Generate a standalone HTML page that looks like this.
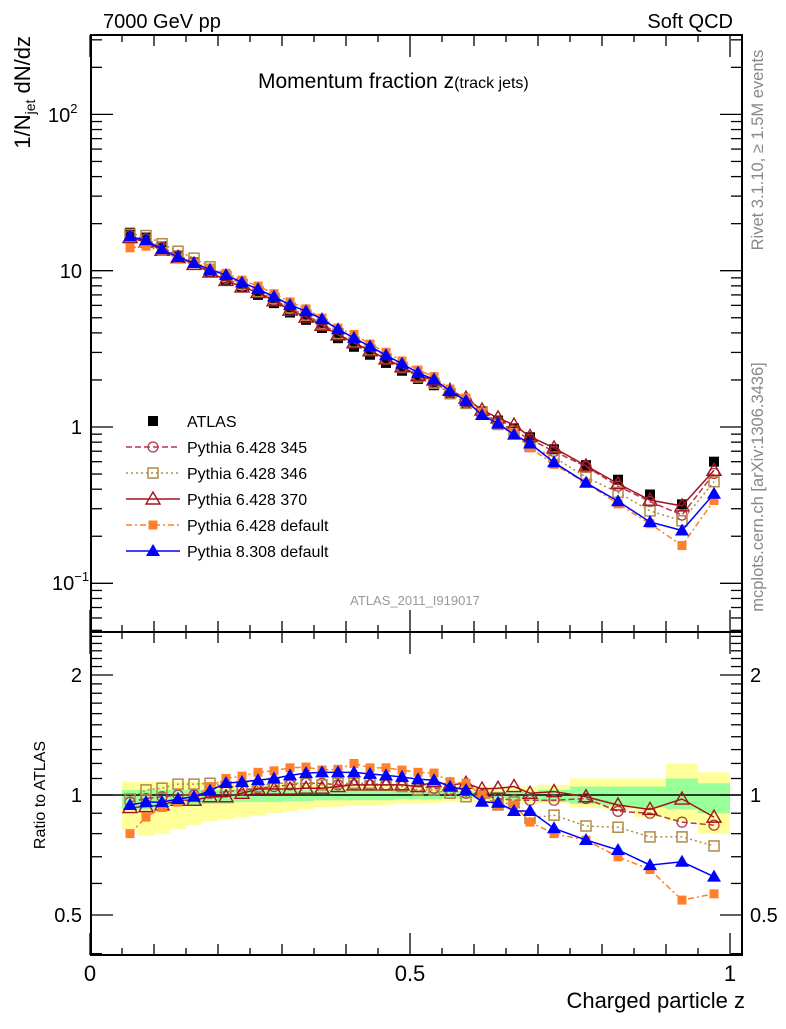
<!DOCTYPE html>
<html><head><meta charset="utf-8"><style>
html,body{margin:0;padding:0;background:#fff}
svg text{font-family:"Liberation Sans",sans-serif}
</style></head><body>
<svg id="chart" width="786" height="1024" viewBox="0 0 786 1024" xmlns="http://www.w3.org/2000/svg">
<rect x="0" y="0" width="786" height="1024" fill="#fff"/>
<g id="bands"></g>
<g id="marks"></g>
<g id="axes"></g>
<text x="103" y="28" font-size="20">7000 GeV pp</text>
<text x="733" y="28" font-size="20" text-anchor="end">Soft QCD</text>
<text x="258" y="88" font-size="21">Momentum fraction z<tspan font-size="16">(track jets)</tspan></text>
<text x="415" y="605" font-size="13" fill="#999" text-anchor="middle">ATLAS_2011_I919017</text>
<text transform="translate(763,150) rotate(-90)" font-size="16.5" fill="#888" text-anchor="middle">Rivet 3.1.10, ≥ 1.5M events</text>
<text transform="translate(763,487) rotate(-90)" font-size="16.5" fill="#888" text-anchor="middle">mcplots.cern.ch [arXiv:1306.3436]</text>
<text transform="translate(30,36) rotate(-90)" font-size="22" text-anchor="end">1/N<tspan font-size="14" dy="5">jet</tspan><tspan dy="-5"> dN/dz</tspan></text>
<text transform="translate(45,795) rotate(-90)" font-size="16" text-anchor="middle">Ratio to ATLAS</text>
<text x="745" y="1008" font-size="22" text-anchor="end">Charged particle z</text>
<text x="52" y="590" font-size="20">10<tspan font-size="13" dy="-9">−1</tspan></text>
<text x="48" y="122" font-size="20">10<tspan font-size="13" dy="-9">2</tspan></text>
<text x="82" y="278" font-size="20" text-anchor="end">10</text>
<text x="82" y="434" font-size="20" text-anchor="end">1</text>
<g id="legend"></g>
</svg>
<script>
// ---- data ----
const zCenters = [0.0625,0.0875,0.1125,0.1375,0.1625,0.1875,0.2125,0.2375,0.2625,0.2875,0.3125,0.3375,0.3625,0.3875,0.4125,0.4375,0.4625,0.4875,0.5125,0.5375,0.5625,0.5875,0.6125,0.6375,0.6625,0.6875,0.725,0.775,0.825,0.875,0.925,0.975];
const binWidths = [0.025,0.025,0.025,0.025,0.025,0.025,0.025,0.025,0.025,0.025,0.025,0.025,0.025,0.025,0.025,0.025,0.025,0.025,0.025,0.025,0.025,0.025,0.025,0.025,0.025,0.025,0.05,0.05,0.05,0.05,0.05,0.05];
const atlasValues = [17.5,16.3,14.3,12.5,11.3,9.9,8.75,7.8,7.0,6.2,5.4,4.85,4.3,3.7,3.26,2.9,2.57,2.29,2.03,1.85,1.62,1.43,1.24,1.1,0.98,0.86,0.72,0.57,0.46,0.37,0.32,0.6];
const ratio345 = [0.96,0.98,0.99,1.0,1.0,1.01,1.02,1.03,1.04,1.05,1.06,1.07,1.07,1.06,1.06,1.06,1.06,1.06,1.05,1.04,1.03,1.01,1.0,0.98,0.97,0.97,0.97,0.98,0.91,0.9,0.855,0.84];
const ratio346 = [0.977,1.03,1.04,1.065,1.065,1.07,1.05,1.05,1.05,1.07,1.07,1.07,1.06,1.07,1.07,1.07,1.06,1.05,1.03,1.03,1.01,0.99,1.01,0.944,0.96,0.875,0.89,0.836,0.83,0.785,0.785,0.745];
const ratio370 = [0.93,0.935,0.944,0.97,0.97,0.99,0.99,1.01,1.035,1.035,1.035,1.04,1.04,1.05,1.06,1.06,1.06,1.06,1.05,1.08,1.06,1.07,1.035,1.04,1.05,1.01,1.02,0.99,0.944,0.92,0.977,0.88];
const ratioP6def = [0.80,0.88,0.93,0.96,0.99,1.05,1.10,1.115,1.14,1.15,1.17,1.175,1.155,1.16,1.2,1.17,1.17,1.155,1.14,1.135,1.08,1.07,1.0,0.944,0.944,0.855,0.80,0.77,0.70,0.65,0.545,0.565];
const ratioP8 = [0.944,0.96,0.96,0.977,0.99,1.025,1.072,1.078,1.09,1.10,1.12,1.135,1.14,1.14,1.14,1.13,1.12,1.11,1.095,1.09,1.049,1.029,0.962,0.956,0.912,0.912,0.825,0.771,0.728,0.667,0.68,0.624];
const yellowHi = [1.08,1.08,1.08,1.08,1.08,1.08,1.07,1.07,1.07,1.07,1.07,1.07,1.07,1.06,1.06,1.06,1.06,1.06,1.05,1.05,1.05,1.05,1.05,1.05,1.05,1.05,1.06,1.1,1.1,1.1,1.2,1.14];
const yellowLo = [0.82,0.79,0.80,0.82,0.84,0.86,0.87,0.88,0.89,0.90,0.91,0.92,0.93,0.935,0.94,0.94,0.945,0.95,0.95,0.955,0.96,0.96,0.96,0.96,0.95,0.95,0.95,0.93,0.92,0.88,0.86,0.80];
const greenHi = [1.03,1.03,1.03,1.03,1.03,1.03,1.03,1.03,1.03,1.03,1.03,1.03,1.03,1.03,1.03,1.03,1.03,1.03,1.02,1.02,1.02,1.02,1.02,1.02,1.02,1.02,1.03,1.05,1.05,1.05,1.1,1.07];
const greenLo = [0.92,0.92,0.93,0.94,0.94,0.95,0.95,0.96,0.96,0.96,0.965,0.965,0.97,0.97,0.97,0.97,0.97,0.975,0.975,0.975,0.98,0.98,0.98,0.98,0.97,0.97,0.96,0.95,0.94,0.93,0.92,0.9];
const ratioTickValues = [0.5,1,2];
const xTickValues = [0,0.5,1];

// ---- axes functions ----
const L=91, R=742, TOP=35, MID=632, BOT=955;
const X=z=>90+640*z;
const Ym=v=>427-156.3*Math.log10(v);
const Yr=r=>795-120*Math.log2(r);
const NS="http://www.w3.org/2000/svg";
function el(tag,attrs,parent){const e=document.createElementNS(NS,tag);for(const k in attrs)e.setAttribute(k,attrs[k]);parent.appendChild(e);return e;}
const bands=document.getElementById('bands'),marks=document.getElementById('marks'),axes=document.getElementById('axes'),legend=document.getElementById('legend');

for(let i=0;i<zCenters.length;i++){
  const x0=X(zCenters[i]-binWidths[i]/2),x1=X(zCenters[i]+binWidths[i]/2);
  const y=el('rect',{x:x0,y:Yr(yellowHi[i]),width:x1-x0,height:Yr(yellowLo[i])-Yr(yellowHi[i]),fill:'#ffff99'},bands);
  
  
  const g=el('rect',{x:x0,y:Yr(greenHi[i]),width:x1-x0,height:Yr(greenLo[i])-Yr(greenHi[i]),fill:'#99ff99'},bands);
  
  
}
const one=el('line',{x1:L,x2:R,y1:Yr(1),y2:Yr(1),stroke:'#000','stroke-width':1.5},bands);



const series=[
 {name:'pythia-6428-345',label:'Pythia 6.428 345',r:ratio345,color:'#b5374d',dash:'6,3',marker:'circle'},
 {name:'pythia-6428-346',label:'Pythia 6.428 346',r:ratio346,color:'#b08a48',dash:'2,3',marker:'osquare'},
 {name:'pythia-6428-370',label:'Pythia 6.428 370',r:ratio370,color:'#a3131f',dash:'',marker:'otri'},
 {name:'pythia-6428-default',label:'Pythia 6.428 default',r:ratioP6def,color:'#ff7f2a',dash:'6,3,2,3',marker:'fsquare'},
 {name:'pythia-8308-default',label:'Pythia 8.308 default',r:ratioP8,color:'#0000ff',dash:'',marker:'ftri'}
];
function marker(type,x,y,color,parent,name){
  let e;
  if(type==='circle')e=el('circle',{cx:x,cy:y,r:5,fill:'none',stroke:color,'stroke-width':1.3},parent);
  else if(type==='osquare')e=el('rect',{x:x-5,y:y-5,width:10,height:10,fill:'none',stroke:color,'stroke-width':1.5},parent);
  else if(type==='fsquare')e=el('rect',{x:x-4.5,y:y-4.5,width:9,height:9,fill:color},parent);
  else if(type==='asquare')e=el('rect',{x:x-5,y:y-5,width:10,height:10,fill:color},parent);
  else if(type==='otri')e=el('polygon',{points:`${x},${y-7} ${x-7},${y+5} ${x+7},${y+5}`,fill:'none',stroke:color,'stroke-width':1.4},parent);
  else e=el('polygon',{points:`${x},${y-7} ${x-7},${y+5} ${x+7},${y+5}`,fill:color},parent);
  
  
}
for(let i=0;i<zCenters.length;i++) marker('asquare',X(zCenters[i]),Ym(atlasValues[i]),'#000',marks,'atlas-point');
series.forEach(s=>{
  const mainPts=zCenters.map((z,i)=>X(z)+','+Ym(atlasValues[i]*s.r[i])).join(' ');
  const ratioPts=zCenters.map((z,i)=>X(z)+','+Yr(s.r[i])).join(' ');
  const a={fill:'none',stroke:s.color,'stroke-width':1.5};if(s.dash)a['stroke-dasharray']=s.dash;
  const l1=el('polyline',Object.assign({points:mainPts},a),marks);
  
  
  const l2=el('polyline',Object.assign({points:ratioPts},a),marks);
  
  
  zCenters.forEach((z,i)=>{
    marker(s.marker,X(z),Ym(atlasValues[i]*s.r[i]),s.color,marks,s.name+'-point');
    marker(s.marker,X(z),Yr(s.r[i]),s.color,marks,s.name+'-ratio-point');
  });
});

[[TOP,MID],[MID,BOT]].forEach(([t,b],k)=>{
  const f=el('rect',{x:L,y:t,width:R-L,height:b-t,fill:'none',stroke:'#000','stroke-width':2},axes);
  
  
});
function tick(x1,y1,x2,y2){const t=el('line',{x1,y1,x2,y2,stroke:'#000','stroke-width':1.3},axes);
  
  }
function label(x,y,txt,anchor,size,name){const t=el('text',{x,y,'font-size':size,'text-anchor':anchor},axes);t.textContent=txt;
  
  }
for(let d=-2;d<=2;d++){for(let m=1;m<10;m++){const v=m*Math.pow(10,d);const y=Ym(v);if(y<TOP||y>MID)continue;
  const len=m===1?22:11;tick(L,y,L+len,y);tick(R,y,R-len,y);}}
for(let r=0.4;r<=2.56;r+=0.1){const rr=Math.round(r*10)/10;const y=Yr(rr);if(y<MID||y>BOT)continue;
  const major=ratioTickValues.includes(rr);const len=major?22:11;tick(L,y,L+len,y);tick(R,y,R-len,y);}
ratioTickValues.forEach(v=>{const y=Yr(v)+7;label(82,y,String(v),'end',20,'ratio-tick-label');label(750,y,String(v),'start',20,'ratio-tick-label-right');});
for(let i=0;i<=20;i++){const z=i*0.05;const x=X(z);const len=(i%10===0)?22:(i%2===0?11:7);
  tick(x,BOT,x,BOT-len);tick(x,MID,x,MID-len);tick(x,MID,x,MID+len);tick(x,TOP,x,TOP+len);}
xTickValues.forEach(v=>label(X(v),981,String(v),'middle',22,'x-tick-label'));

const legendRows=[{label:'ATLAS',marker:'asquare',color:'#000',dash:null}].concat(series.map(s=>({label:s.label,marker:s.marker,color:s.color,dash:s.dash})));
legendRows.forEach((row,i)=>{const y=421+26*i;
  if(row.dash!==null){const a={x1:126,x2:180,y1:y,y2:y,stroke:row.color,'stroke-width':1.5};if(row.dash)a['stroke-dasharray']=row.dash;
    const l=el('line',a,legend);}
  marker(row.marker,153,y,row.color,legend,'legend-marker');
  const t=el('text',{x:187,y:y+6,'font-size':16},legend);t.textContent=row.label;
  
  
});
</script>
</body></html>
